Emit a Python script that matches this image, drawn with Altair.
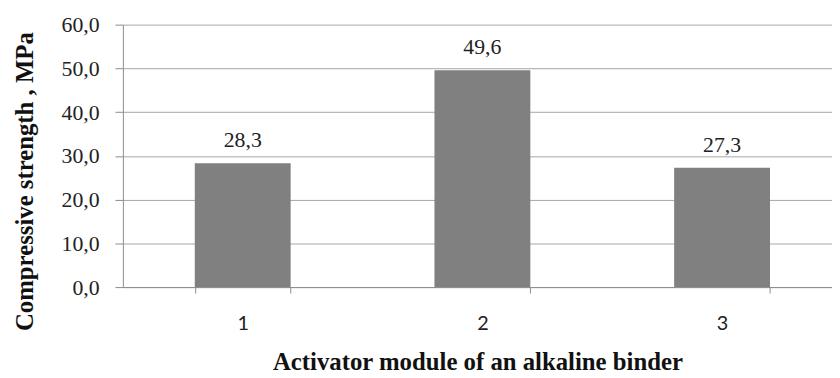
import altair as alt
import pandas as pd

categories = ["1", "2", "3"]
values = [28.3, 49.6, 27.3]
y_ticks = [0, 10, 20, 30, 40, 50, 60]

df = pd.DataFrame({"module": categories, "strength": values})

SERIF = "Times New Roman, Liberation Serif, DejaVu Serif, serif"
SANS = "Lato, Open Sans, sans-serif"

x_enc = alt.X(
    "module:N",
    title="Activator module of an alkaline binder",
    scale=alt.Scale(paddingInner=0.6, paddingOuter=0.2793, align=0.537),
    axis=alt.Axis(
        labelAngle=0,
        labelFont=SANS,
        labelFontSize=20,
        labelColor="#222222",
        labelPadding=21,
        titleFont=SERIF,
        titleFontSize=25,
        titleFontWeight="bold",
        titleColor="#111111",
        titlePadding=16,
        tickBand="extent",
        tickSize=6,
        tickColor="#8c8c8c",
        domainColor="#8c8c8c",
        grid=False,
    ),
)

y_enc = alt.Y(
    "strength:Q",
    title="Compressive strength , MPa",
    scale=alt.Scale(domain=[0, 60], nice=False),
    axis=alt.Axis(
        values=y_ticks,
        labelExpr="replace(format(datum.value, '.1f'), '.', ',')",
        labelFont=SERIF,
        labelFontSize=22,
        labelColor="#222222",
        labelPadding=16,
        titleFont=SERIF,
        titleFontSize=25,
        titleFontWeight="bold",
        titleColor="#111111",
        titleAngle=-90,
        titleX=-91,
        titleY=158,
        titleBaseline="alphabetic",
        titleAlign="center",
        tickSize=8,
        tickColor="#8c8c8c",
        domainColor="#8c8c8c",
        gridColor="#a6a6a6",
        grid=True,
    ),
)

bars = alt.Chart(df).mark_bar(color="#808080").encode(x=x_enc, y=y_enc)

labels = (
    alt.Chart(df)
    .transform_calculate(lbl="replace(format(datum.strength, '.1f'), '.', ',')")
    .mark_text(font=SERIF, fontSize=22, color="#222222", baseline="alphabetic", dy=-16)
    .encode(x=alt.X("module:N"), y=alt.Y("strength:Q"), text="lbl:N")
)

chart = (
    alt.layer(bars, labels)
    .properties(
        width=716,
        height=265,
        autosize=alt.AutoSizeParams(type="none"),
        padding={"left": 116, "top": 15, "right": 0, "bottom": 90},
    )
    .configure_view(stroke=None)
)

chart.save("out.html", embed_options={"renderer": "svg", "actions": False})
